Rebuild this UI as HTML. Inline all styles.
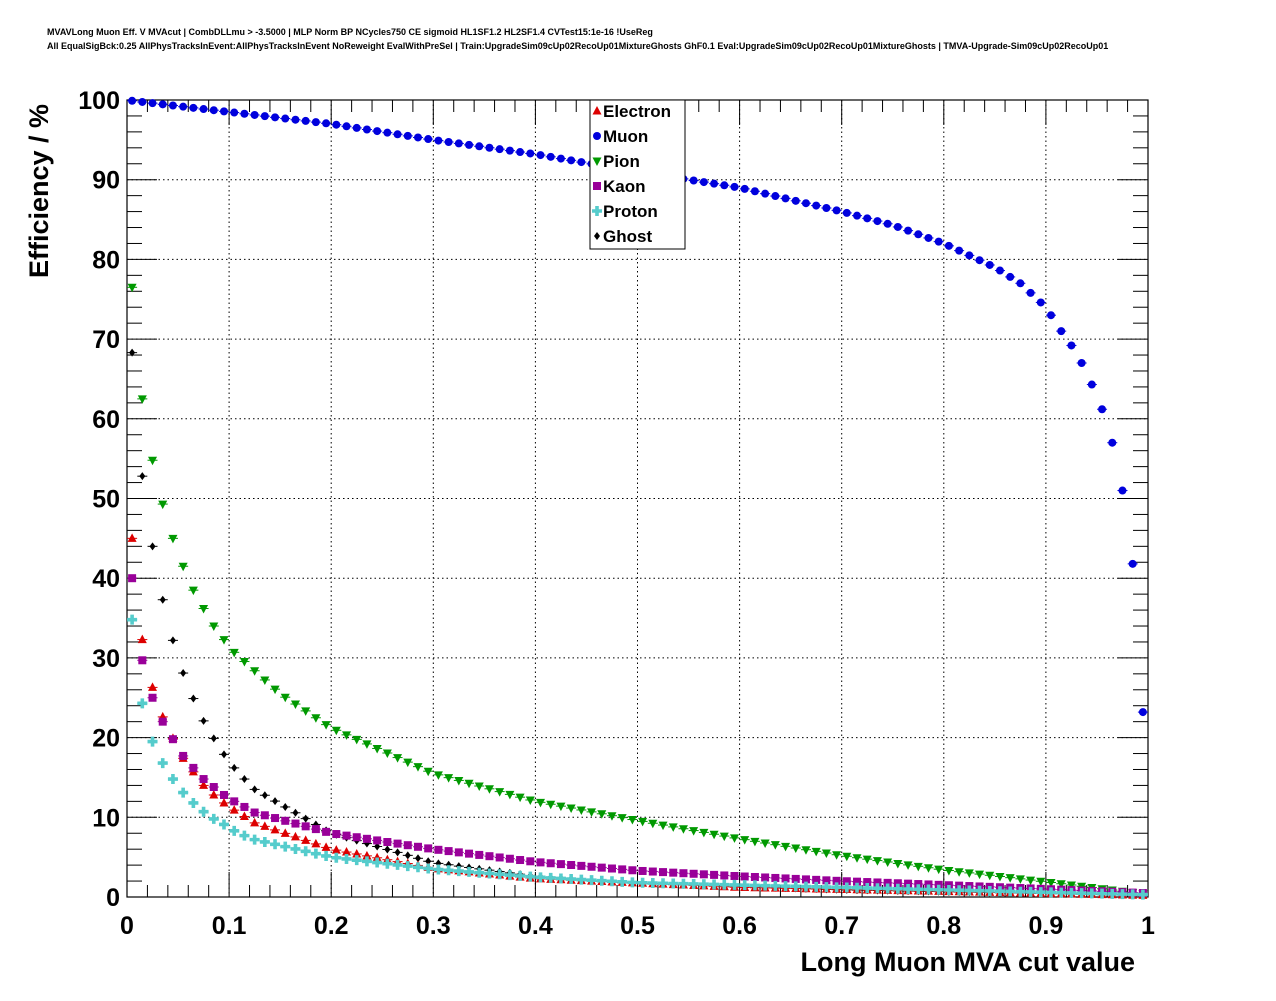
<!DOCTYPE html>
<html><head><meta charset="utf-8"><style>
body{margin:0;background:#fff;width:1276px;height:996px;overflow:hidden;font-family:"Liberation Sans",sans-serif}
</style></head><body>
<svg id="s" width="1276" height="996" xmlns="http://www.w3.org/2000/svg" font-family="Liberation Sans, sans-serif">
<text x="47" y="35" font-size="9" font-weight="bold">MVAVLong Muon Eff. V MVAcut | CombDLLmu &gt; -3.5000 | MLP Norm BP NCycles750 CE sigmoid HL1SF1.2 HL2SF1.4 CVTest15:1e-16 !UseReg</text>
<text x="47" y="49" font-size="9" font-weight="bold">All EqualSigBck:0.25 AllPhysTracksInEvent:AllPhysTracksInEvent NoReweight EvalWithPreSel | Train:UpgradeSim09cUp02RecoUp01MixtureGhosts GhF0.1 Eval:UpgradeSim09cUp02RecoUp01MixtureGhosts | TMVA-Upgrade-Sim09cUp02RecoUp01</text>
<g id="g"></g>
<text x="1135" y="971" font-size="27" font-weight="bold" text-anchor="end">Long Muon MVA cut value</text>
<text transform="translate(48,191) rotate(-90)" font-size="27" font-weight="bold" text-anchor="middle">Efficiency / %</text>
</svg>
<script>
var X0=127,X1=1148,Y0=897,Y1=100;
function px(x){return X0+(X1-X0)*x}function py(y){return Y0-(Y0-Y1)*y/100}
var h='';
for(var i=1;i<10;i++){h+='<line x1="'+px(i/10)+'" y1="'+Y1+'" x2="'+px(i/10)+'" y2="'+Y0+'" stroke="#000" stroke-dasharray="1.5,3" stroke-width="1"/>';
h+='<line x1="'+X0+'" y1="'+py(i*10)+'" x2="'+X1+'" y2="'+py(i*10)+'" stroke="#000" stroke-dasharray="1.5,3" stroke-width="1"/>';}
h+='<rect x="'+X0+'" y="'+Y1+'" width="'+(X1-X0)+'" height="'+(Y0-Y1)+'" fill="none" stroke="#000" stroke-width="1.2"/>';
for(var i=0;i<=50;i++){var x=px(i/50),L=(i%5==0)?25:12;
h+='<line x1="'+x+'" y1="'+Y0+'" x2="'+x+'" y2="'+(Y0-L)+'" stroke="#000"/><line x1="'+x+'" y1="'+Y1+'" x2="'+x+'" y2="'+(Y1+L)+'" stroke="#000"/>';}
for(var i=0;i<=50;i++){var y=py(i*2),L=(i%5==0)?30:15;
h+='<line x1="'+X0+'" y1="'+y+'" x2="'+(X0+L)+'" y2="'+y+'" stroke="#000"/><line x1="'+X1+'" y1="'+y+'" x2="'+(X1-L)+'" y2="'+y+'" stroke="#000"/>';}
for(var i=0;i<=10;i++){var lab=(i==0?'0':i==10?'1':'0.'+i);
h+='<text x="'+px(i/10)+'" y="934" font-size="25" font-weight="bold" text-anchor="middle">'+lab+'</text>';
h+='<text x="120" y="'+(py(i*10)+9)+'" font-size="25" font-weight="bold" text-anchor="end">'+(i*10)+'</text>';}
function interp(pts,x){for(var i=0;i<pts.length-1;i++){if(x<=pts[i+1][0]){var a=pts[i],b=pts[i+1],t=(x-a[0])/(b[0]-a[0]);return a[1]+(b[1]-a[1])*t;}}return pts[pts.length-1][1];}
function early(arr,rest){var p=[];for(var i=0;i<arr.length;i++)p.push([0.005+i*0.01,arr[i]]);return p.concat(rest);}
var S=[
{c:'#0000dd',m:'c',p:[[0.005,99.9],[0.1,98.5],[0.2,97],[0.3,95],[0.4,93.2],[0.5,91],[0.6,89],[0.7,86],[0.75,84.3],[0.8,82],[0.85,79],[0.875,77],[0.9,74],[0.915,71],[0.925,69.2],[0.935,67],[0.945,64.3],[0.955,61.2],[0.965,57],[0.975,51],[0.985,41.8],[0.995,23.2]]},
{c:'#009900',m:'d',p:early([76.5,62.5,54.8,49.3,45,41.5,38.5,36.2,34,32.3,30.7],[[0.15,25.5],[0.2,21.2],[0.3,15.5],[0.4,12],[0.5,9.6],[0.6,7.3],[0.7,5.2],[0.8,3.4],[0.9,1.9],[0.995,0.4]])},
{c:'#000000',m:'k',p:early([68.3,52.8,44,37.3,32.2,28.1,24.9,22.1,19.9,17.9,16.2,14.8,13.5],[[0.2,8],[0.3,4.3],[0.4,2.6],[0.5,1.7],[0.7,0.9],[0.995,0.2]])},
{c:'#dd0000',m:'u',p:early([45,32.3,26.3,22.6,19.9,17.4,15.7,14,12.8,11.8,10.9,10.1,9.3],[[0.2,6],[0.3,3.6],[0.4,2.3],[0.6,1.2],[0.995,0.2]])},
{c:'#990099',m:'s',p:early([40,29.7,25,22,19.8,17.7,16.2,14.8,13.8,12.8,12,11.3,10.6],[[0.2,8],[0.3,6],[0.4,4.4],[0.5,3.3],[0.6,2.6],[0.7,2],[0.8,1.5],[0.9,1],[0.995,0.5]])},
{c:'#55cccc',m:'p',p:early([34.8,24.3,19.5,16.8,14.8,13.1,11.8,10.7,9.8,9.1,8.3,7.7,7.2],[[0.2,5],[0.3,3.5],[0.4,2.5],[0.5,1.8],[0.7,1.2],[0.995,0.3]])}
];
function mk(m,c,x,y){
 if(m=='c')return '<circle cx="'+x+'" cy="'+y+'" r="4" fill="'+c+'"/>';
 if(m=='u')return '<polygon points="'+x+','+(y-5)+' '+(x-4.5)+','+(y+3.5)+' '+(x+4.5)+','+(y+3.5)+'" fill="'+c+'"/>';
 if(m=='d')return '<polygon points="'+x+','+(y+5)+' '+(x-4.5)+','+(y-3.5)+' '+(x+4.5)+','+(y-3.5)+'" fill="'+c+'"/>';
 if(m=='s')return '<rect x="'+(x-4)+'" y="'+(y-4)+'" width="8" height="8" fill="'+c+'"/>';
 if(m=='p')return '<path d="M'+(x-1.8)+','+(y-5)+'h3.6v3.2h3.2v3.6h-3.2v3.2h-3.6v-3.2h-3.2v-3.6h3.2z" fill="'+c+'"/>';
 return '<polygon points="'+x+','+(y-4)+' '+(x+3)+','+y+' '+x+','+(y+4)+' '+(x-3)+','+y+'" fill="'+c+'"/>';
}
S.forEach(function(s){for(var i=0;i<100;i++){var xv=0.005+i*0.01,yv=interp(s.p,xv),x=px(xv),y=py(yv);
 h+='<line x1="'+(x-5)+'" y1="'+y+'" x2="'+(x+5)+'" y2="'+y+'" stroke="'+s.c+'"/>'+mk(s.m,s.c,x,y);}});
h+='<rect x="590" y="100" width="95" height="149" fill="#fff" stroke="#000"/>';
var L=[['Electron','#dd0000','u'],['Muon','#0000dd','c'],['Pion','#009900','d'],['Kaon','#990099','s'],['Proton','#55cccc','p'],['Ghost','#000000','k']];
L.forEach(function(e,i){var y=111+i*25;h+=mk(e[2],e[1],597,y)+'<text x="603" y="'+(y+6)+'" font-size="17" font-weight="bold">'+e[0]+'</text>';});
document.getElementById('g').innerHTML=h;
</script>
</body></html>
